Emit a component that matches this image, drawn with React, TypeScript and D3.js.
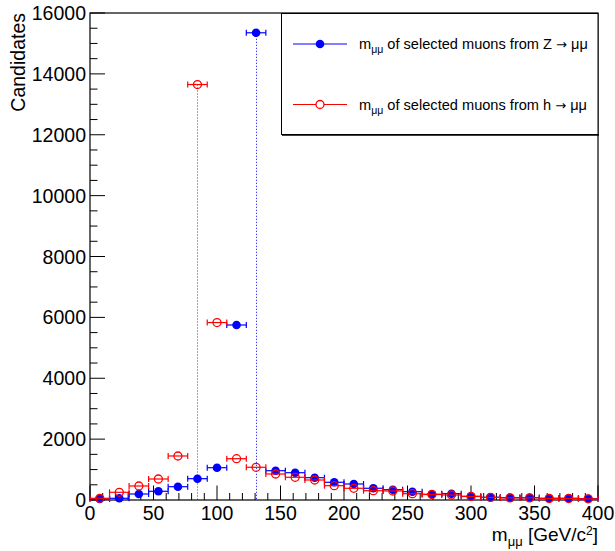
import React from "react";
import * as d3 from "d3";

const xDomain = [0, 400];
const yDomain = [0, 16000];
const nBins = 26;
const xTicks = [0, 50, 100, 150, 200, 250, 300, 350, 400];
const yTicks = [0, 2000, 4000, 6000, 8000, 10000, 12000, 14000, 16000];

const zValues = [33, 56, 197, 286, 437, 700, 1061, 5750, 15350, 963, 897, 733, 582, 526, 385, 339, 273, 187, 207, 121, 89, 76, 76, 56, 56, 43];
const hValues = [56, 253, 460, 690, 1446, 13650, 5830, 1357, 1075, 854, 746, 657, 471, 385, 306, 296, 207, 180, 164, 115, 85, 70, 70, 50, 50, 40];
const legendLabels = [
  [" of selected muons from Z ", "→", " μμ"],
  [" of selected muons from h ", "→", " μμ"],
];

const W = 615, H = 551;
const L = 90, R = 598, T = 13, B = 500;
const FONT = "'Liberation Sans', Arial, Helvetica, sans-serif";

export default function App() {
  const x = d3.scaleLinear().domain(xDomain).range([L, R]);
  const y = d3.scaleLinear().domain(yDomain).range([B, T]);
  const bw = (xDomain[1] - xDomain[0]) / nBins;

  const series = [
    { vals: zValues, color: "#0000ff", filled: true },
    { vals: hValues, color: "#ff0000", filled: false },
  ];

  const xMinor = d3.range(0, 401, 10).filter((v) => v % 50 !== 0);
  const yMinor = d3.range(0, 16001, 500).filter((v) => v % 2000 !== 0);

  return (
    <svg width={W} height={H} style={{ position: "absolute", left: 0, top: 0, background: "#fff" }} fontFamily={FONT}>
      <rect x={0} y={0} width={W} height={H} fill="#fff" />
      {series.map((s, si) => {
        const imax = d3.maxIndex(s.vals);
        const cx = Math.round(x(xDomain[0] + (imax + 0.5) * bw)) + 0.5;
        return (
          <line key={"pk" + si} x1={cx} x2={cx} y1={y(s.vals[imax])} y2={B} stroke={s.color} strokeWidth={1} strokeDasharray="1,2" />
        );
      })}
      <rect x={L} y={T} width={R - L} height={B - T} fill="none" stroke="#000" strokeWidth={1.2} />
      {xTicks.map((v) => (
        <line key={"xt" + v} x1={x(v)} x2={x(v)} y1={B} y2={B - 14.5} stroke="#000" strokeWidth={1} />
      ))}
      {xMinor.map((v) => (
        <line key={"xm" + v} x1={x(v)} x2={x(v)} y1={B} y2={B - 7} stroke="#000" strokeWidth={1} />
      ))}
      {yTicks.map((v) => (
        <line key={"yt" + v} x1={L} x2={L + 15} y1={y(v)} y2={y(v)} stroke="#000" strokeWidth={1} />
      ))}
      {yMinor.map((v) => (
        <line key={"ym" + v} x1={L} x2={L + 7.5} y1={y(v)} y2={y(v)} stroke="#000" strokeWidth={1} />
      ))}
      {xTicks.map((v) => (
        <text key={"xl" + v} x={x(v)} y={519.5} fontSize={19.5} textAnchor="middle">{v}</text>
      ))}
      {yTicks.map((v) => (
        <text key={"yl" + v} x={86} y={y(v) + 7} fontSize={19.5} textAnchor="end">{v}</text>
      ))}
      <text x={598} y={541} fontSize={19} textAnchor="end">
        m<tspan fontSize={13} dy={5}>μμ</tspan>
        <tspan dy={-5}> [GeV/c</tspan>
        <tspan fontSize={12} dy={-6}>2</tspan>
        <tspan dy={6}>]</tspan>
      </text>
      <text transform="translate(25,13) rotate(-90)" fontSize={19.5} textAnchor="end">Candidates</text>
      {series.map((s, si) => (
        <g key={"s" + si}>
          {s.vals.map((v, i) => {
            const x0 = x(xDomain[0] + i * bw);
            const x1 = x(xDomain[0] + (i + 1) * bw);
            const cx = (x0 + x1) / 2;
            const cy = y(v);
            return (
              <g key={i}>
                <line x1={x0} x2={x1} y1={cy} y2={cy} stroke={s.color} strokeWidth={1.2} />
                <line x1={x0} x2={x0} y1={cy - 3} y2={cy + 3} stroke={s.color} strokeWidth={1.2} />
                <line x1={x1} x2={x1} y1={cy - 3} y2={cy + 3} stroke={s.color} strokeWidth={1.2} />
                {s.filled ? (
                  <circle cx={cx} cy={cy} r={4.3} fill={s.color} />
                ) : (
                  <circle cx={cx} cy={cy} r={4} fill="none" stroke={s.color} strokeWidth={1.3} />
                )}
              </g>
            );
          })}
        </g>
      ))}
      <rect x={281.5} y={13.5} width={316.5} height={121} fill="#fff" stroke="#000" strokeWidth={1} />
      <line x1={282} x2={599} y1={135} y2={135} stroke="#000" strokeWidth={1.5} />
      {series.map((s, si) => {
        const ly = si === 0 ? 44 : 104.5;
        const lab = legendLabels[si];
        return (
          <g key={"lg" + si}>
            <line x1={293} x2={347} y1={ly} y2={ly} stroke={s.color} strokeWidth={1.2} />
            {s.filled ? (
              <circle cx={320} cy={ly} r={4.3} fill={s.color} />
            ) : (
              <circle cx={320} cy={ly} r={4} fill="#fff" stroke={s.color} strokeWidth={1.3} />
            )}
            <text x={359} y={ly + 5} fontSize={14.6}>
              m<tspan fontSize={10.5} dy={4}>μμ</tspan>
              <tspan dy={-4}>{lab[0]}</tspan>
              <tspan fontFamily="'DejaVu Sans', sans-serif" fontSize={13}>{lab[1]}</tspan>
              <tspan>{lab[2]}</tspan>
            </text>
          </g>
        );
      })}
    </svg>
  );
}
